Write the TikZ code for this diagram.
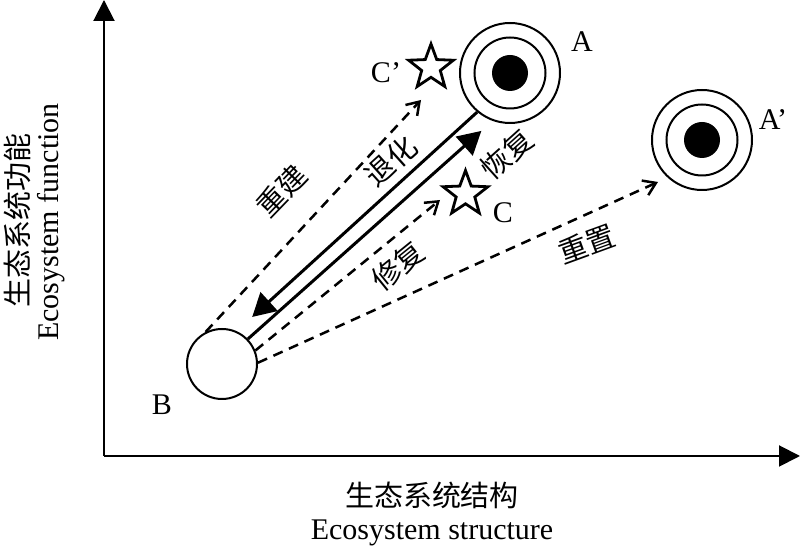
\documentclass[tikz,border=0pt]{standalone}
\usepackage{fontspec}
\setmainfont{Liberation Serif}
\newfontfamily\cjk{Noto Sans CJK SC}
\usetikzlibrary{arrows.meta,shapes.geometric}

\begin{document}
\begin{tikzpicture}[
		x=0.5pt, y=-0.5pt,
		every node/.style={font=\fontsize{15pt}{17pt}\selectfont},
		lbl/.style={font=\cjk\fontsize{14.5pt}{16pt}\selectfont},
		axis/.style={line width=1pt,-{Triangle[length=10.5pt,width=10.5pt]}},
		state/.style={circle,draw,line width=1pt,inner sep=0pt},
		core/.style={circle,fill,inner sep=0pt,minimum size=18pt},
		target/.style={star,star points=5,star point ratio=2.4,draw,line width=1.4pt,minimum size=23.5pt,inner sep=0pt},
		fwd/.style={line width=1.5pt,-{Triangle[length=11.5pt,width=12.5pt]}},
		dsh/.style={line width=1.25pt,dash pattern=on 5pt off 3.5pt,-{Straight Barb[length=6pt,width=8pt]}}
	]
	\useasboundingbox (0,0) rectangle (800,549);

	\coordinate (O) at (104,456);
	\coordinate (ytop) at (104,0);
	\coordinate (xend) at (800,456);
	\draw[axis] (O) -- (ytop);
	\draw[axis] (O) -- (xend);

	\node[lbl, rotate=90] (ycn) at (17,221) {生态系统功能};
	\node[rotate=90] (yen) at (51,222) {Ecosystem function};
	\node[lbl] (xcn) at (432,495) {生态系统结构};
	\node[anchor=base] (xen) at (432,540) {Ecosystem structure};

	\node[state, minimum size=35pt] (B) at (222,364) {};
	\node[state, minimum size=50pt] (A) at (510,73) {};
	\node[state, minimum size=35.5pt] (Amid) at (A) {};
	\node[core] (Acore) at (A) {};
	\node[state, minimum size=50pt] (Ap) at (702,140) {};
	\node[state, minimum size=35.5pt] (Apmid) at (Ap) {};
	\node[core] (Apcore) at (Ap) {};
	\node[target] (Cp) at (431,67.5) {};
	\node[target] (C) at (465.5,194) {};

	\node[anchor=base] (Alabel) at (582,52) {A};
	\node[anchor=base] (Aplabel) at (773,130) {A’};
	\node[anchor=base] (Blabel) at (162,415) {B};
	\node[anchor=base] (Clabel) at (503,223) {C};
	\node[anchor=base] (Cplabel) at (386,83) {C’};

	\coordinate (rebuildtip) at (421,100);
	\coordinate (repairtip) at (440,200);
	\coordinate (resettip) at (658,182);

	\draw[fwd, shorten >=10.5pt] (A.230) -- (B.66);
	\draw[fwd, shorten >=7.5pt] (B.44) -- (A.250);
	\draw[dsh] (B.117) -- (rebuildtip);
	\draw[dsh] (B.22) -- (repairtip);
	\draw[dsh] (B.2) -- (resettip);

	\node[lbl, rotate=42] (degrade) at (391,161) {退化};
	\node[lbl, rotate=46] (rebuild) at (282,191) {重建};
	\node[lbl, rotate=42] (restore) at (507,154) {恢复};
	\node[lbl, rotate=39] (repair) at (398,266) {修复};
	\node[lbl, rotate=20] (reset) at (587,244) {重置};
\end{tikzpicture}
\end{document}
